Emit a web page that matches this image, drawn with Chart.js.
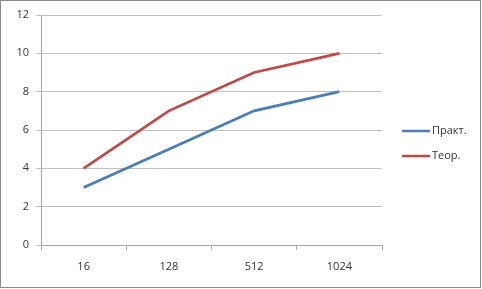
<!DOCTYPE html>
<html>
<head>
<meta charset="utf-8">
<script src="https://cdn.jsdelivr.net/npm/chart.js@4"></script>
<style>
  html, body { margin: 0; padding: 0; background: #fff; }
  #wrap { width: 482px; height: 289px; position: relative; }
</style>
</head>
<body>
<div id="wrap"><canvas id="chart" width="482" height="289"></canvas></div>
<script>
// --- DATA ---
const categories = ['16', '128', '512', '1024'];
const practValues = [3, 5, 7, 8];
const theorValues = [4, 7, 9, 10];
const seriesNames = ['Практ.', 'Теор.'];
const seriesColors = ['#4a7ebb', '#be4b48'];

const FONT = { family: "'Open Sans', 'Noto Sans', sans-serif", size: 11 };

// frame + legend drawn by hand, Excel style
const framePlugin = {
    id: 'frame',
    beforeDraw(chart) {
        const ctx = chart.ctx;
        ctx.save();
        ctx.fillStyle = '#fff';
        ctx.fillRect(0, 0, chart.width, chart.height);
        ctx.strokeStyle = '#8c8c8c';
        ctx.lineWidth = 1;
        ctx.strokeRect(0.5, 0.5, chart.width - 2, chart.height - 2);
        ctx.restore();
    },
    afterDraw(chart) {
        const ctx = chart.ctx;
        ctx.save();
        ctx.font = FONT.size + 'px ' + FONT.family;
        ctx.textBaseline = 'middle';
        chart.data.datasets.forEach((ds, i) => {
            const y = 131 + i * 25;
            ctx.strokeStyle = ds.borderColor;
            ctx.lineWidth = 2.5;
            ctx.beginPath();
            ctx.moveTo(402, y);
            ctx.lineTo(430, y);
            ctx.stroke();
            ctx.fillStyle = '#333';
            ctx.fillText(ds.label, 432, y);
        });
        ctx.restore();
    }
};

new Chart(document.getElementById('chart'), {
    type: 'line',
    data: {
        labels: categories,
        datasets: [
            { label: seriesNames[0], data: practValues, borderColor: seriesColors[0], backgroundColor: seriesColors[0] },
            { label: seriesNames[1], data: theorValues, borderColor: seriesColors[1], backgroundColor: seriesColors[1] }
        ]
    },
    options: {
        responsive: false,
        animation: false,
        elements: {
            line: { borderWidth: 2.75, tension: 0 },
            point: { radius: 0, hoverRadius: 0 }
        },
        layout: { padding: { left: 0, top: 15, right: 100, bottom: 0 } },
        plugins: { legend: { display: false }, tooltip: { enabled: false } },
        scales: {
            x: {
                offset: true,
                grid: { offset: true, drawOnChartArea: false, drawTicks: true, tickLength: 5, color: '#a6a6a6' },
                border: { color: '#a6a6a6' },
                ticks: { color: '#333', font: FONT, padding: 10 },
                afterFit(scale) { scale.height = 44; }
            },
            y: {
                min: 0,
                max: 12,
                ticks: { stepSize: 2, color: '#333', font: FONT, padding: 7 },
                grid: { color: '#bfbfbf', tickLength: 5 },
                border: { color: '#a6a6a6' },
                afterFit(scale) { scale.width = 41; }
            }
        }
    },
    plugins: [framePlugin]
});
</script>
</body>
</html>
